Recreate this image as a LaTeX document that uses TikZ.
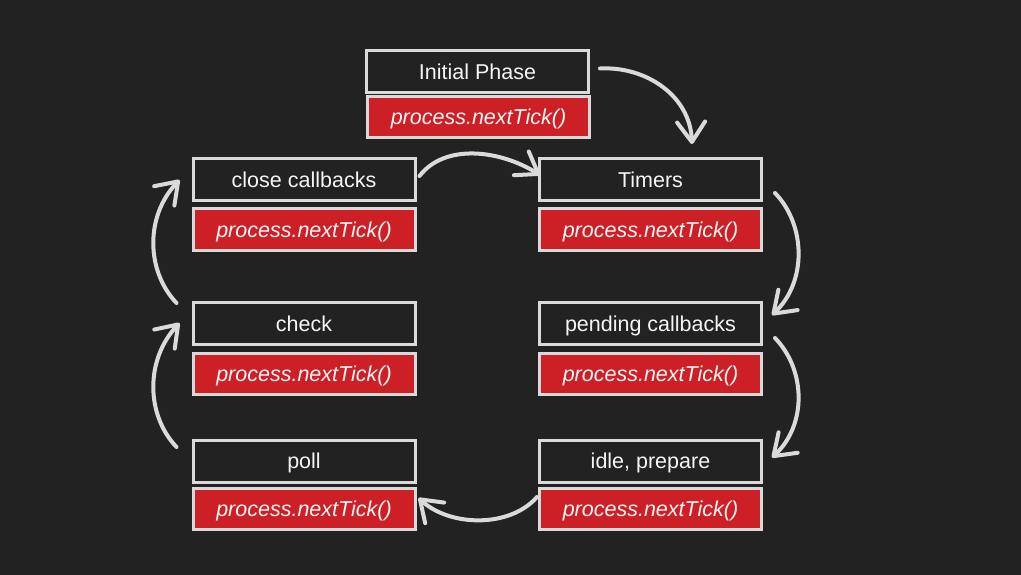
\documentclass[tikz,border=0pt]{standalone}
\usepackage{fontspec}
\setmainfont{Liberation Sans}
\usetikzlibrary{arrows.meta}
\definecolor{bg}{RGB}{34,34,34}
\definecolor{edge}{RGB}{218,218,218}
\definecolor{redfill}{RGB}{205,32,38}
\definecolor{txt}{RGB}{245,245,245}
\begin{document}
\begin{tikzpicture}[x=1pt,y=-1pt,
  phase/.style={draw=edge, line width=3pt, fill=bg, minimum width=222pt, minimum height=42pt,
    inner sep=0pt, text height=15.6pt, text depth=0pt, text=txt, font=\fontsize{21.5}{24}\selectfont},
  tick/.style={phase, fill=redfill, minimum height=41pt, font=\fontsize{21.5}{24}\selectfont\itshape},
  flow/.style={draw=edge, line width=4pt, line cap=round,
    -{Straight Barb[length=20pt,width=28pt,line cap=round,line join=round]}}]
\fill[bg] (0,0) rectangle (1021,575);
\useasboundingbox (0,0) rectangle (1021,575);

\node[phase] (init) at (477.5,71.5) {Initial Phase};
\node[tick] (initT) at (478.5,117) {process.nextTick()};

\node[phase] (timers) at (650.5,179.5) {Timers};
\node[tick] (timersT) at (650.5,229.5) {process.nextTick()};
\node[phase] (close) at (304,179.5) {close callbacks};
\node[tick] (closeT) at (304,229.5) {process.nextTick()};

\node[phase] (pending) at (650.5,323.5) {pending callbacks};
\node[tick] (pendingT) at (650.5,373.5) {process.nextTick()};
\node[phase] (check) at (304,323.5) {check};
\node[tick] (checkT) at (304,373.5) {process.nextTick()};

\node[phase] (idle) at (650.5,461) {idle, prepare};
\node[tick] (idleT) at (650.5,509) {process.nextTick()};
\node[phase] (poll) at (304,461) {poll};
\node[tick] (pollT) at (304,509) {process.nextTick()};

% Initial -> Timers
\draw[flow] ([shift={(10,-3)}]init.east) .. controls (645,66) and (690,95) .. ([shift={(41.5,-13)}]timers.north);
% close -> Timers
\draw[flow] ([shift={(3,-3.5)}]close.east) .. controls (445,143) and (500,150) .. ([shift={(2,-4.5)}]timers.west);
% Timers -> pending
\draw[flow] ([shift={(12,13.5)}]timers.east) .. controls (806,225) and (807,282) .. ([shift={(9,14)}]pending.north east);
% pending -> idle
\draw[flow] ([shift={(12,14.5)}]pending.east) .. controls (806,370) and (807,425) .. ([shift={(9,19)}]idle.north east);
% idle -> poll
\draw[flow] ([shift={(-1,-12)}]idleT.west) .. controls (510,528) and (450,527) .. ([shift={(2,-11)}]pollT.east);
% poll -> check
\draw[flow] ([shift={(-15,-14)}]poll.west) .. controls (146,415) and (145,360) .. ([shift={(-12,-0.5)}]check.west);
% check -> close
\draw[flow] ([shift={(-15,2)}]check.north west) .. controls (146,271) and (145,216) .. ([shift={(-12,0.5)}]close.west);
\end{tikzpicture}
\end{document}
